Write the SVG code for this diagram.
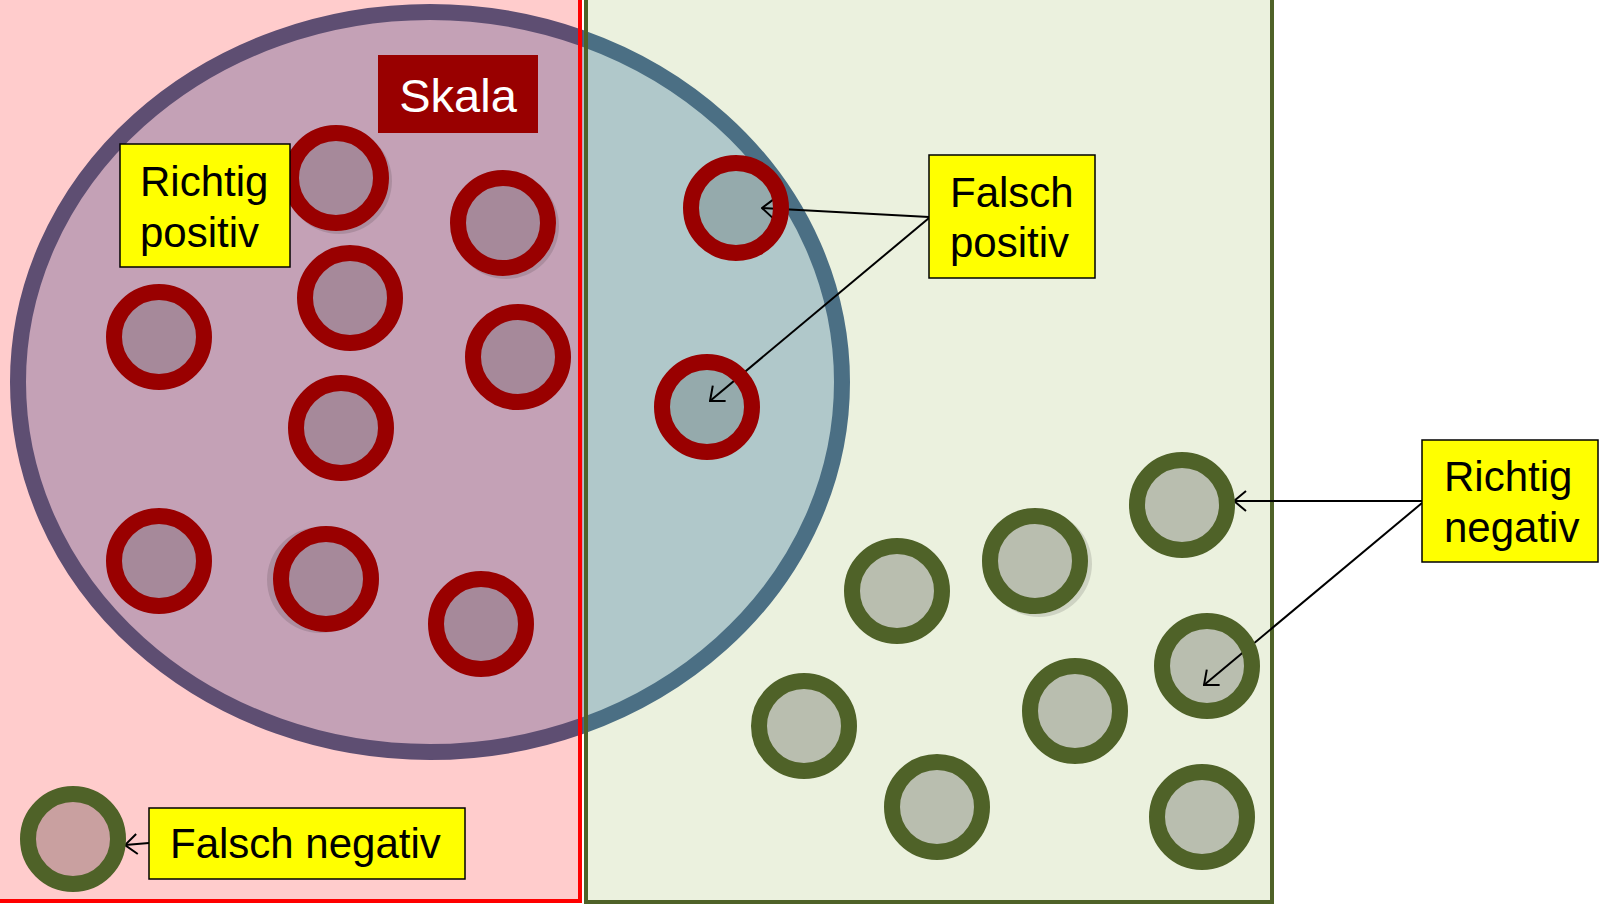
<svg xmlns="http://www.w3.org/2000/svg" width="1600" height="904" viewBox="0 0 1600 904">
<style>
.lbl{fill:#FFFF00;stroke:#000;stroke-width:1.5}
.t{font-family:"Liberation Sans",Arial,sans-serif;font-size:42px;fill:#000}
.rc{stroke:#990000;stroke-width:16;fill:#000;fill-opacity:0.15}
.gc{stroke:#4F6228;stroke-width:16;fill:#000;fill-opacity:0.21}
.cn{stroke:#000;stroke-width:2;fill:none;marker-end:url(#arr)}
.sh{fill:#000;fill-opacity:0.12;fill-rule:evenodd}
</style>
<defs>
<marker id="arr" markerUnits="userSpaceOnUse" viewBox="0 0 14 22" refX="13" refY="11" markerWidth="14" markerHeight="22" orient="auto">
<path d="M1,1 L13,11 L1,21" fill="none" stroke="#000" stroke-width="2"/>
</marker>
<clipPath id="cl"><rect x="0" y="0" width="583" height="904"/></clipPath>
<clipPath id="cr"><rect x="583" y="0" width="1017" height="904"/></clipPath>
</defs>
<rect x="0" y="0" width="1600" height="904" fill="#FFFFFF"/>
<g id="panel-left"><rect x="-4" y="-4" width="584" height="905" fill="#FFCCCC"/></g>
<g id="panel-right"><rect x="586" y="-4" width="686" height="906" fill="#EBF1DE"/></g>
<g id="scale-ellipse">
<ellipse cx="430" cy="382" rx="412" ry="370" fill="#C4A1B6" stroke="#5E4E72" stroke-width="16" clip-path="url(#cl)"/>
<ellipse cx="430" cy="382" rx="412" ry="370" fill="#B0C8CA" stroke="#4B6F84" stroke-width="16" clip-path="url(#cr)"/>
</g>
<g id="panel-borders" fill="none">
<rect x="-4" y="-4" width="584" height="905" stroke="#FF0000" stroke-width="4"/>
<rect x="586" y="-4" width="686" height="906" stroke="#4F6228" stroke-width="4"/>
</g>
<g id="connectors">
<line class="cn" x1="929" y1="217" x2="762" y2="208"/>
<line class="cn" x1="929" y1="218" x2="710" y2="401"/>
<line class="cn" x1="1422" y1="501" x2="1234" y2="501"/>
<line class="cn" x1="1422" y1="503" x2="1204" y2="685"/>
<line class="cn" x1="149" y1="843" x2="125" y2="845"/>
</g>
<g id="shadows">
<path class="sh" d="M286,181 a53,53 0 1,0 106,0 a53,53 0 1,0 -106,0 Z M283,178 a53,53 0 1,0 106,0 a53,53 0 1,0 -106,0 Z"/>
<path class="sh" d="M453,226 a53,53 0 1,0 106,0 a53,53 0 1,0 -106,0 Z M450,223 a53,53 0 1,0 106,0 a53,53 0 1,0 -106,0 Z"/>
<path class="sh" d="M267,580 a53,53 0 1,0 106,0 a53,53 0 1,0 -106,0 Z M273,579 a53,53 0 1,0 106,0 a53,53 0 1,0 -106,0 Z"/>
<path class="sh" d="M986,564 a53,53 0 1,0 106,0 a53,53 0 1,0 -106,0 Z M982,561 a53,53 0 1,0 106,0 a53,53 0 1,0 -106,0 Z"/>
</g>
<g id="tp-circles">
<g id="tp1"><circle class="rc" cx="336" cy="178" r="45"/></g>
<g id="tp2"><circle class="rc" cx="503" cy="223" r="45"/></g>
<g id="tp3"><circle class="rc" cx="350" cy="298" r="45"/></g>
<g id="tp4"><circle class="rc" cx="159" cy="337" r="45"/></g>
<g id="tp5"><circle class="rc" cx="518" cy="357" r="45"/></g>
<g id="tp6"><circle class="rc" cx="341" cy="428" r="45"/></g>
<g id="tp7"><circle class="rc" cx="159" cy="561" r="45"/></g>
<g id="tp8"><circle class="rc" cx="326" cy="579" r="45"/></g>
<g id="tp9"><circle class="rc" cx="481" cy="624" r="45"/></g>
</g>
<g id="fp-circles">
<g id="fp1"><circle class="rc" cx="736" cy="208" r="45"/></g>
<g id="fp2"><circle class="rc" cx="707" cy="407" r="45"/></g>
</g>
<g id="tn-circles">
<g id="tn1"><circle class="gc" cx="1182" cy="505" r="45"/></g>
<g id="tn2"><circle class="gc" cx="1035" cy="561" r="45"/></g>
<g id="tn3"><circle class="gc" cx="897" cy="591" r="45"/></g>
<g id="tn4"><circle class="gc" cx="1207" cy="666" r="45"/></g>
<g id="tn5"><circle class="gc" cx="804" cy="726" r="45"/></g>
<g id="tn6"><circle class="gc" cx="1075" cy="711" r="45"/></g>
<g id="tn7"><circle class="gc" cx="937" cy="807" r="45"/></g>
<g id="tn8"><circle class="gc" cx="1202" cy="817" r="45"/></g>
</g>
<g id="fn-circle"><circle class="gc" cx="73" cy="839" r="45"/></g>
<g id="label-skala">
<rect x="378" y="55" width="160" height="78" fill="#990000"/>
<text x="458" y="112" text-anchor="middle" font-family="Liberation Sans, Arial, sans-serif" font-size="47" fill="#FFFFFF">Skala</text>
</g>
<g id="label-richtig-positiv">
<rect class="lbl" x="120" y="144" width="170" height="123"/>
<text class="t" x="140" y="196">Richtig</text>
<text class="t" x="140" y="247">positiv</text>
</g>
<g id="label-falsch-positiv">
<rect class="lbl" x="929" y="155" width="166" height="123"/>
<text class="t" x="950" y="207">Falsch</text>
<text class="t" x="950" y="257">positiv</text>
</g>
<g id="label-richtig-negativ">
<rect class="lbl" x="1422" y="440" width="176" height="122"/>
<text class="t" x="1444" y="491">Richtig</text>
<text class="t" x="1444" y="542">negativ</text>
</g>
<g id="label-falsch-negativ">
<rect class="lbl" x="149" y="808" width="316" height="71"/>
<text class="t" x="170" y="858">Falsch negativ</text>
</g>
</svg>
